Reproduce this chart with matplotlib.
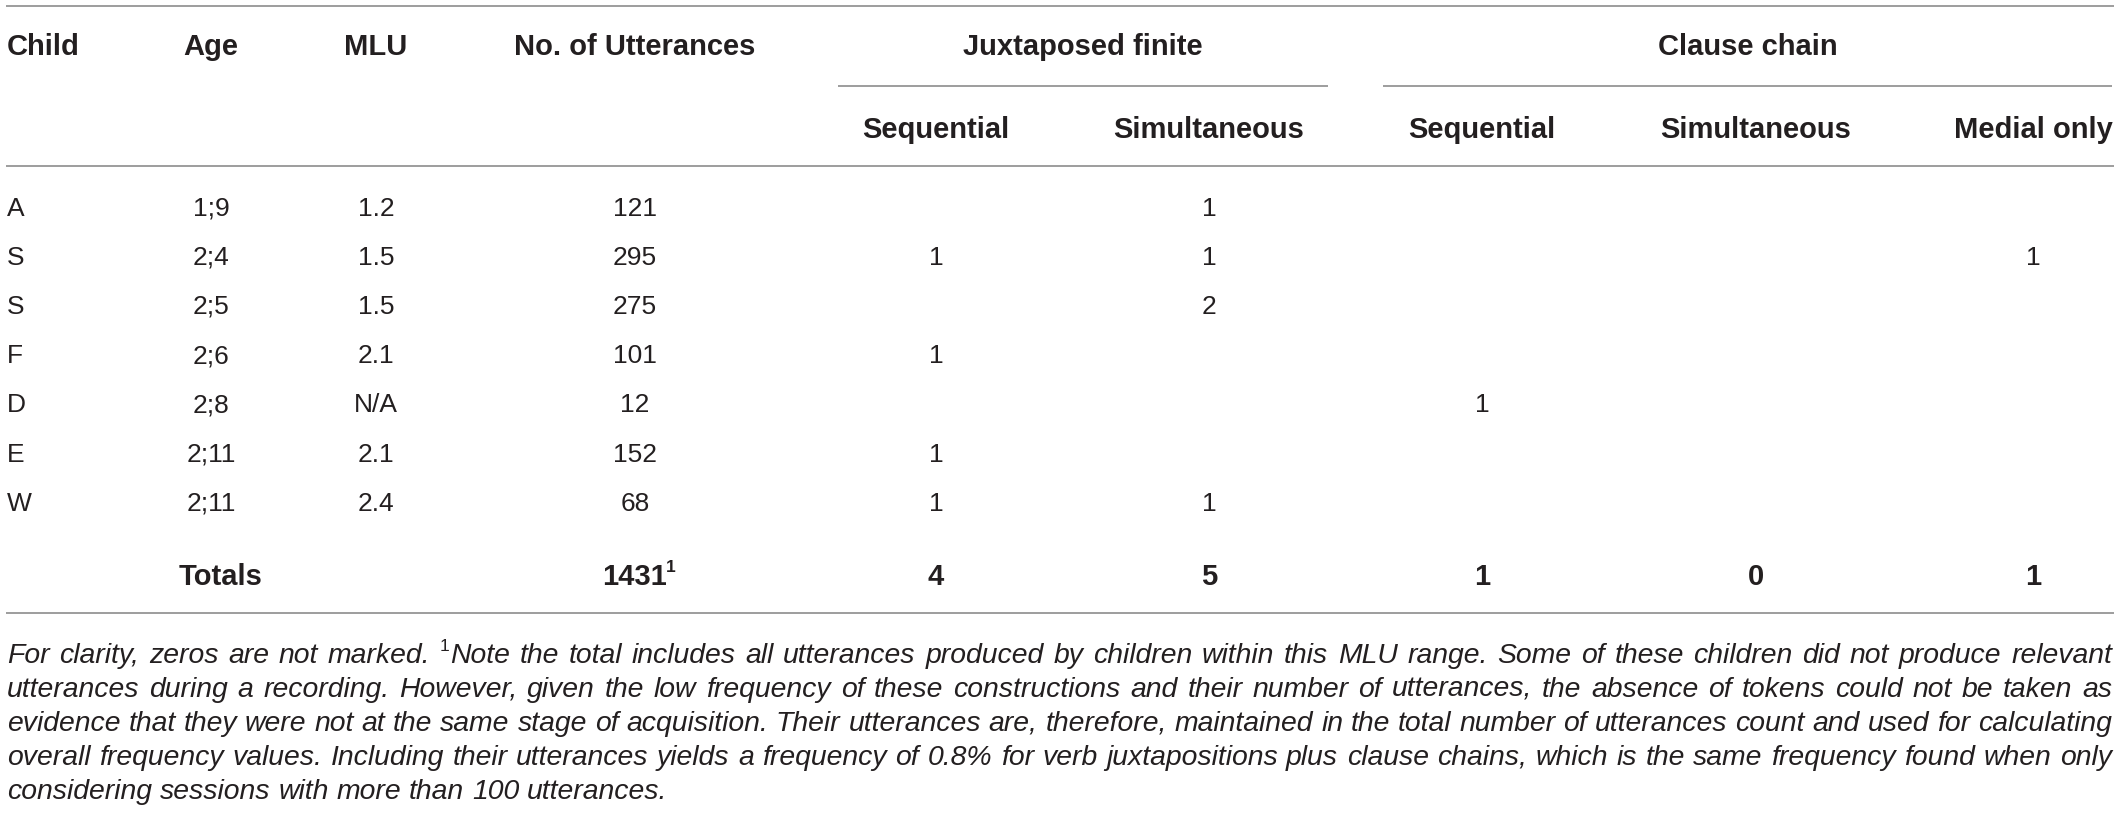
import matplotlib
matplotlib.use("Agg")
from matplotlib import pyplot as plt

# table data
children = ["A", "S", "S", "F", "D", "E", "W"]
ages = ["1;9", "2;4", "2;5", "2;6", "2;8", "2;11", "2;11"]
mlu = ["1.2", "1.5", "1.5", "2.1", "N/A", "2.1", "2.4"]
utterances = [121, 295, 275, 101, 12, 152, 68]
juxt_sequential = [0, 1, 0, 1, 0, 1, 1]
juxt_simultaneous = [1, 1, 2, 0, 0, 0, 1]
chain_sequential = [0, 0, 0, 0, 1, 0, 0]
chain_simultaneous = [0, 0, 0, 0, 0, 0, 0]
chain_medial = [0, 1, 0, 0, 0, 0, 0]
total_utterances = 1431

top_headers = ["Child", "Age", "MLU", "No. of Utterances"]
group_headers = ["Juxtaposed finite", "Clause chain"]
sub_headers = ["Sequential", "Simultaneous", "Sequential", "Simultaneous", "Medial only"]

footnote_lines = [
    "For clarity, zeros are not marked. ^1Note the total includes all utterances produced by children "
    "within this MLU range. Some of these children did not produce relevant",
    "utterances during a recording. However, given the low frequency of these constructions and their "
    "number of utterances, the absence of tokens could not be taken as",
    "evidence that they were not at the same stage of acquisition. Their utterances are, therefore, "
    "maintained in the total number of utterances count and used for calculating",
    "overall frequency values. Including their utterances yields a frequency of 0.8% for verb "
    "juxtapositions plus clause chains, which is the same frequency found when only",
    "considering sessions with more than 100 utterances.",
]

W, H = 2119, 819
FONT = "Liberation Sans"
INK = "#231f20"
RULE = "#8c8c8c"

fig = plt.figure(figsize=(W / 100, H / 100), dpi=100)
ax = fig.add_axes([0, 0, 1, 1])
ax.set_xlim(0, W)
ax.set_ylim(H, 0)
ax.axis("off")

# column centres (child column is left aligned)
col_x = [7, 211, 376, 635, 936, 1209, 1482, 1756, 2033]


def rule(x0, x1, y):
    ax.plot([x0, x1], [y, y], color=RULE, lw=1.2, solid_capstyle="butt")


###
# header
hdr = dict(family=FONT, fontweight="bold", fontsize=21, color=INK, va="baseline")
for i, h in enumerate(top_headers):
    ax.text(col_x[i], 55, h, ha="left" if i == 0 else "center", **hdr)
ax.text((838 + 1328) / 2, 55, group_headers[0], ha="center", **hdr)
ax.text((1383 + 2112) / 2, 55, group_headers[1], ha="center", **hdr)
for i, h in enumerate(sub_headers):
    ax.text(col_x[4 + i], 138, h, ha="center", **hdr)

rule(6, 2114, 5.5)
rule(838, 1328, 86)
rule(1383, 2112, 86)
rule(6, 2114, 166)

###
# body
body = dict(family=FONT, fontsize=19, color=INK, va="baseline")
counts = [juxt_sequential, juxt_simultaneous, chain_sequential, chain_simultaneous, chain_medial]
y0, step = 215.5, 49.2
for r in range(len(children)):
    y = y0 + r * step
    ax.text(col_x[0], y, children[r], ha="left", **body)
    ax.text(col_x[1], y, ages[r], ha="center", **body)
    ax.text(col_x[2], y, mlu[r], ha="center", **body)
    ax.text(col_x[3], y, str(utterances[r]), ha="center", **body)
    for c, series in enumerate(counts):
        if series[r]:
            ax.text(col_x[4 + c], y, str(series[r]), ha="center", **body)

# totals row
ty = 585
ax.text(221, ty, "Totals", ha="center", **hdr)
ax.text(col_x[3], ty, str(total_utterances), ha="center", **hdr)
ax.text(col_x[3] + 31, ty - 13, "1", ha="left", family=FONT, fontweight="bold",
        fontsize=12.5, color=INK, va="baseline")
for c, series in enumerate(counts):
    ax.text(col_x[4 + c], ty, str(sum(series)), ha="center", **hdr)

rule(6, 2114, 613)

###
# footnote, justified between left and right margin
fig.canvas.draw()
renderer = fig.canvas.get_renderer()
note = dict(family=FONT, style="italic", fontsize=20.4, color=INK, va="baseline")
sup = dict(family=FONT, fontsize=12.5, color=INK, va="baseline")
left, right = 7, 2112


def place_word(word, x, y):
    parts = []
    if word.startswith("^1"):
        parts.append(ax.text(x, y - 12, "1", ha="left", **sup))
        word = word[2:]
    parts.append(ax.text(x, y, word, ha="left", **note))
    return parts


def word_width(parts):
    w = 0
    for p in parts:
        w += p.get_window_extent(renderer).width
    return w


for i, line in enumerate(footnote_lines):
    y = 663 + i * 34
    words = line.split(" ")
    placed = [place_word(wd, 0, y) for wd in words]
    widths = [word_width(p) for p in placed]
    space = ax.text(0, y, "a a", **note).get_window_extent(renderer).width \
        - ax.text(0, y, "aa", **note).get_window_extent(renderer).width
    last = i == len(footnote_lines) - 1
    if not last:
        space = (right - left - sum(widths)) / (len(words) - 1)
    # clean measuring helpers
    for t in ax.texts[-2:]:
        t.remove()
    x = left
    for parts, w in zip(placed, widths):
        off = x
        for p in parts:
            p.set_x(off)
            off += p.get_window_extent(renderer).width
        x += w + space

plt.savefig("out.png", dpi=100)
